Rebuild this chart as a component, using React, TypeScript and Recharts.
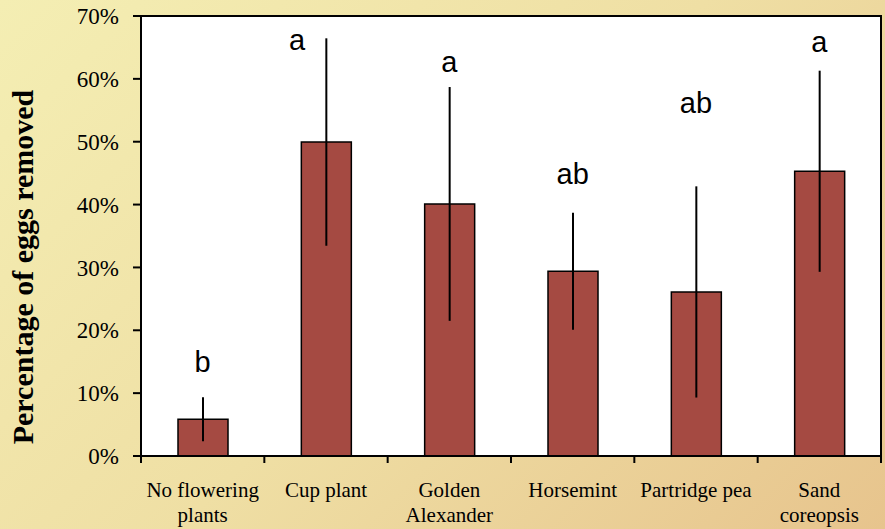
import React from 'react';
import {
  ComposedChart,
  Bar,
  ErrorBar,
  Scatter,
  XAxis,
  YAxis,
  CartesianGrid,
  ReferenceArea,
} from 'recharts';

const plants = [
  'No flowering plants',
  'Cup plant',
  'Golden Alexander',
  'Horsemint',
  'Partridge pea',
  'Sand coreopsis',
];
const tickLines = [
  ['No flowering', 'plants'],
  ['Cup plant'],
  ['Golden', 'Alexander'],
  ['Horsemint'],
  ['Partridge pea'],
  ['Sand', 'coreopsis'],
];
const removed = [5.85, 49.95, 40.1, 29.4, 26.1, 45.3];
const stdErr = [3.5, 16.5, 18.6, 9.3, 16.8, 16.0];
const letters = ['b', 'a', 'a', 'ab', 'ab', 'a'];
const letterLevel = [15.0, 66.2, 62.7, 45.0, 56.2, 65.9];
const yTicks = [0, 10, 20, 30, 40, 50, 60, 70];

const data = plants.map((p, i) => ({
  plant: p,
  removed: removed[i],
  err: stdErr[i],
  letter: letters[i],
  letterY: letterLevel[i],
}));

const W = 885;
const H = 529;
const M = { top: 16, right: 4, left: 0, bottom: 0 };
const Y_W = 141;
const BAND = (W - M.left - M.right - Y_W) / plants.length;
const serif = '"Liberation Serif", "Times New Roman", serif';

const XTick = (props: any) => {
  const { x, y, payload, index } = props;
  const lines = tickLines[index] || [payload.value];
  const left = x - BAND / 2;
  return (
    <g>
      <line x1={left} y1={y} x2={left} y2={y + 7} stroke="#000" strokeWidth={2} />
      {index === plants.length - 1 && (
        <line x1={x + BAND / 2} y1={y} x2={x + BAND / 2} y2={y + 7} stroke="#000" strokeWidth={2} />
      )}
      {lines.map((l: string, k: number) => (
        <text
          key={k}
          x={x}
          y={y + 41 + k * 25}
          textAnchor="middle"
          fontFamily={serif}
          fontSize={21}
          fill="#000"
        >
          {l}
        </text>
      ))}
    </g>
  );
};

const LetterShape = (props: any) => {
  const { cx, cy, payload } = props;
  // nudge the letter aside when it would sit on the error bar
  const top = payload.removed + payload.err;
  const dx = payload.letterY < top + 2 ? -29 : 0;
  return (
    <text
      x={cx + dx}
      y={cy}
      dy="0.36em"
      textAnchor="middle"
      fontFamily='"Liberation Sans", Arial, sans-serif'
      fontSize={29}
      fill="#000"
    >
      {payload.letter}
    </text>
  );
};

const YLabel = (props: any) => {
  const vb = props.viewBox || { y: 16, height: 440 };
  const cy = vb.y + vb.height / 2 + 31;
  return (
    <text
      x={33}
      y={cy}
      transform={`rotate(-90, 33, ${cy})`}
      textAnchor="middle"
      fontFamily={serif}
      fontWeight="bold"
      fontSize={30}
      fill="#000"
    >
      Percentage of eggs removed
    </text>
  );
};

export default function App() {
  return (
    <div
      style={{
        position: 'absolute',
        left: 0,
        top: 0,
        width: W,
        height: H,
        background: 'linear-gradient(135deg, #f4eeb3 0%, #efdfa4 50%, #e7c48d 100%)',
      }}
    >
      <ComposedChart width={W} height={H} data={data} margin={M}>
        <CartesianGrid fill="#fff" horizontal={false} vertical={false} />
        <XAxis
          dataKey="plant"
          height={73}
          interval={0}
          tickLine={false}
          tickSize={0}
          tickMargin={0}
          axisLine={{ stroke: '#000', strokeWidth: 2 }}
          tick={<XTick />}
        />
        <YAxis
          width={Y_W}
          domain={[0, 70]}
          ticks={yTicks}
          interval={0}
          tickFormatter={(v: number) => `${v}%`}
          tickSize={8}
          tickMargin={14}
          tickLine={{ stroke: '#000', strokeWidth: 2 }}
          axisLine={{ stroke: '#000', strokeWidth: 2 }}
          tick={{ fill: '#000', fontFamily: serif, fontSize: 23 }}
          label={<YLabel />}
        />
        <ReferenceArea y1={0} y2={70} fill="none" stroke="#000" strokeWidth={2} />
        <Bar
          dataKey="removed"
          barSize={50}
          fill="#a54a42"
          stroke="#000"
          strokeWidth={1.5}
          isAnimationActive={false}
        >
          <ErrorBar dataKey="err" width={0} stroke="#000" strokeWidth={2} />
        </Bar>
        <Scatter dataKey="letterY" shape={<LetterShape />} isAnimationActive={false} />
      </ComposedChart>
    </div>
  );
}
